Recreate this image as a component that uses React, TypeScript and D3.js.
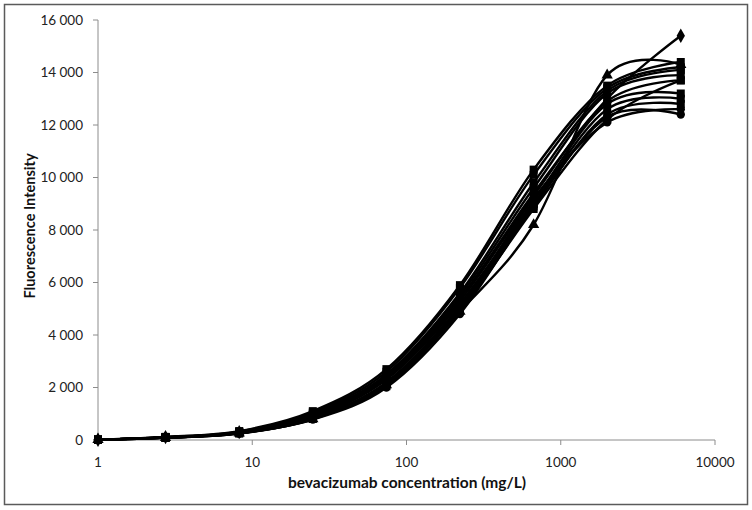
import React from "react";
import * as d3 from "d3";

// bevacizumab concentrations (mg/L), 3-fold dilution series
const concentrations = [1, 2.74, 8.23, 24.7, 74.1, 222, 667, 2000, 6000];

const yTicks = [0, 2000, 4000, 6000, 8000, 10000, 12000, 14000, 16000];
const xTicks = [1, 10, 100, 1000, 10000];

const s01 = [10, 110, 300, 950, 2400, 5400, 9400, 13000, 15400];
const s02 = [10, 90, 260, 800, 2100, 4900, 8200, 13900, 14300];
const s03 = [15, 120, 340, 1100, 2700, 5900, 10300, 13500, 14400];
const s04 = [12, 110, 320, 1050, 2600, 5800, 10100, 13400, 14200];
const s05 = [10, 100, 300, 1000, 2500, 5600, 9800, 13300, 14100];
const s06 = [10, 100, 290, 950, 2450, 5500, 9600, 13200, 13900];
const s07 = [10, 95, 280, 900, 2350, 5300, 9300, 12900, 13700];
const s08 = [10, 95, 270, 880, 2300, 5200, 9100, 12800, 13200];
const s09 = [8, 90, 260, 850, 2200, 5100, 9000, 12600, 13000];
const s10 = [8, 90, 260, 820, 2150, 5000, 8900, 12400, 12800];
const s11 = [8, 85, 250, 800, 2050, 4900, 8800, 12200, 13700];
const s12 = [8, 85, 250, 780, 2000, 4800, 8900, 12300, 12400];
const s13 = [8, 90, 260, 820, 2100, 5000, 9200, 12100, 12600];

const seriesList = [
    { values: s01, marker: "diamond" },
    { values: s02, marker: "triangle" },
    { values: s03, marker: "square" },
    { values: s04, marker: "square" },
    { values: s05, marker: "square" },
    { values: s06, marker: "square" },
    { values: s07, marker: "square" },
    { values: s08, marker: "square" },
    { values: s09, marker: "square" },
    { values: s10, marker: "square" },
    { values: s11, marker: "square" },
    { values: s12, marker: "circle" },
    { values: s13, marker: "circle" },
];

const W = 752;
const H = 510;
const plot = { left: 98, right: 715, top: 20, bottom: 440 };
const font = "Lato, 'Open Sans', sans-serif";

const symbolFor = {
    diamond: d3.symbol().type(d3.symbolDiamond).size(60),
    triangle: d3.symbol().type(d3.symbolTriangle).size(55),
    square: d3.symbol().type(d3.symbolSquare).size(64),
    circle: d3.symbol().type(d3.symbolCircle).size(55),
};

export default function App() {
    const x = d3.scaleLog().domain([1, 10000]).range([plot.left, plot.right]);
    const y = d3.scaleLinear().domain([0, 16000]).range([plot.bottom, plot.top]);

    const line = d3
        .line<number>()
        .x((_, i) => x(concentrations[i]))
        .y((d) => y(d))
        .curve(d3.curveCatmullRom.alpha(0));

    const fmt = (v: number) => d3.format(",")(v).replace(/,/g, " ");

    return (
        <svg
            width={W}
            height={H}
            style={{ position: "absolute", left: 0, top: 0, background: "white" }}
        >
            <rect x={4.5} y={4.5} width={743} height={500} fill="white" stroke="#5a5a5a" strokeWidth={1.5} />

            {/* y axis */}
            <line x1={plot.left} x2={plot.left} y1={plot.top} y2={plot.bottom} stroke="#8c8c8c" />
            {yTicks.map((t) => (
                <g key={t}>
                    <line x1={plot.left - 5} x2={plot.left} y1={y(t)} y2={y(t)} stroke="#8c8c8c" />
                    <text
                        x={83}
                        y={y(t)}
                        dy="0.35em"
                        textAnchor="end"
                        fontSize="13.5px"
                        fontFamily={font}
                        fill="#222"
                    >
                        {fmt(t)}
                    </text>
                </g>
            ))}

            {/* x axis */}
            <line x1={plot.left} x2={plot.right} y1={plot.bottom} y2={plot.bottom} stroke="#8c8c8c" />
            {xTicks.map((t) => (
                <g key={t}>
                    <line x1={x(t)} x2={x(t)} y1={plot.bottom} y2={plot.bottom + 5} stroke="#8c8c8c" />
                    <text
                        x={x(t)}
                        y={467}
                        textAnchor="middle"
                        fontSize="13.5px"
                        fontFamily={font}
                        fill="#222"
                    >
                        {t}
                    </text>
                </g>
            ))}

            <text
                x={407}
                y={488}
                textAnchor="middle"
                fontSize="15.5px"
                fontWeight="bold"
                fontFamily={font}
                fill="#111"
            >
                bevacizumab concentration (mg/L)
            </text>
            <text
                transform={`translate(35, 226) rotate(-90)`}
                textAnchor="middle"
                fontSize="14.5px"
                fontWeight="bold"
                fontFamily={font}
                fill="#111"
            >
                Fluorescence Intensity
            </text>

            {/* series */}
            {seriesList.map((s, i) => (
                <path key={`l${i}`} d={line(s.values) || ""} fill="none" stroke="black" strokeWidth={2.4} />
            ))}
            {seriesList.map((s, i) => (
                <g key={`m${i}`}>
                    {s.values.map((v, j) => (
                        <path
                            key={j}
                            transform={`translate(${x(concentrations[j])},${y(v)})`}
                            d={symbolFor[s.marker]() || ""}
                            fill="black"
                        />
                    ))}
                </g>
            ))}
        </svg>
    );
}
